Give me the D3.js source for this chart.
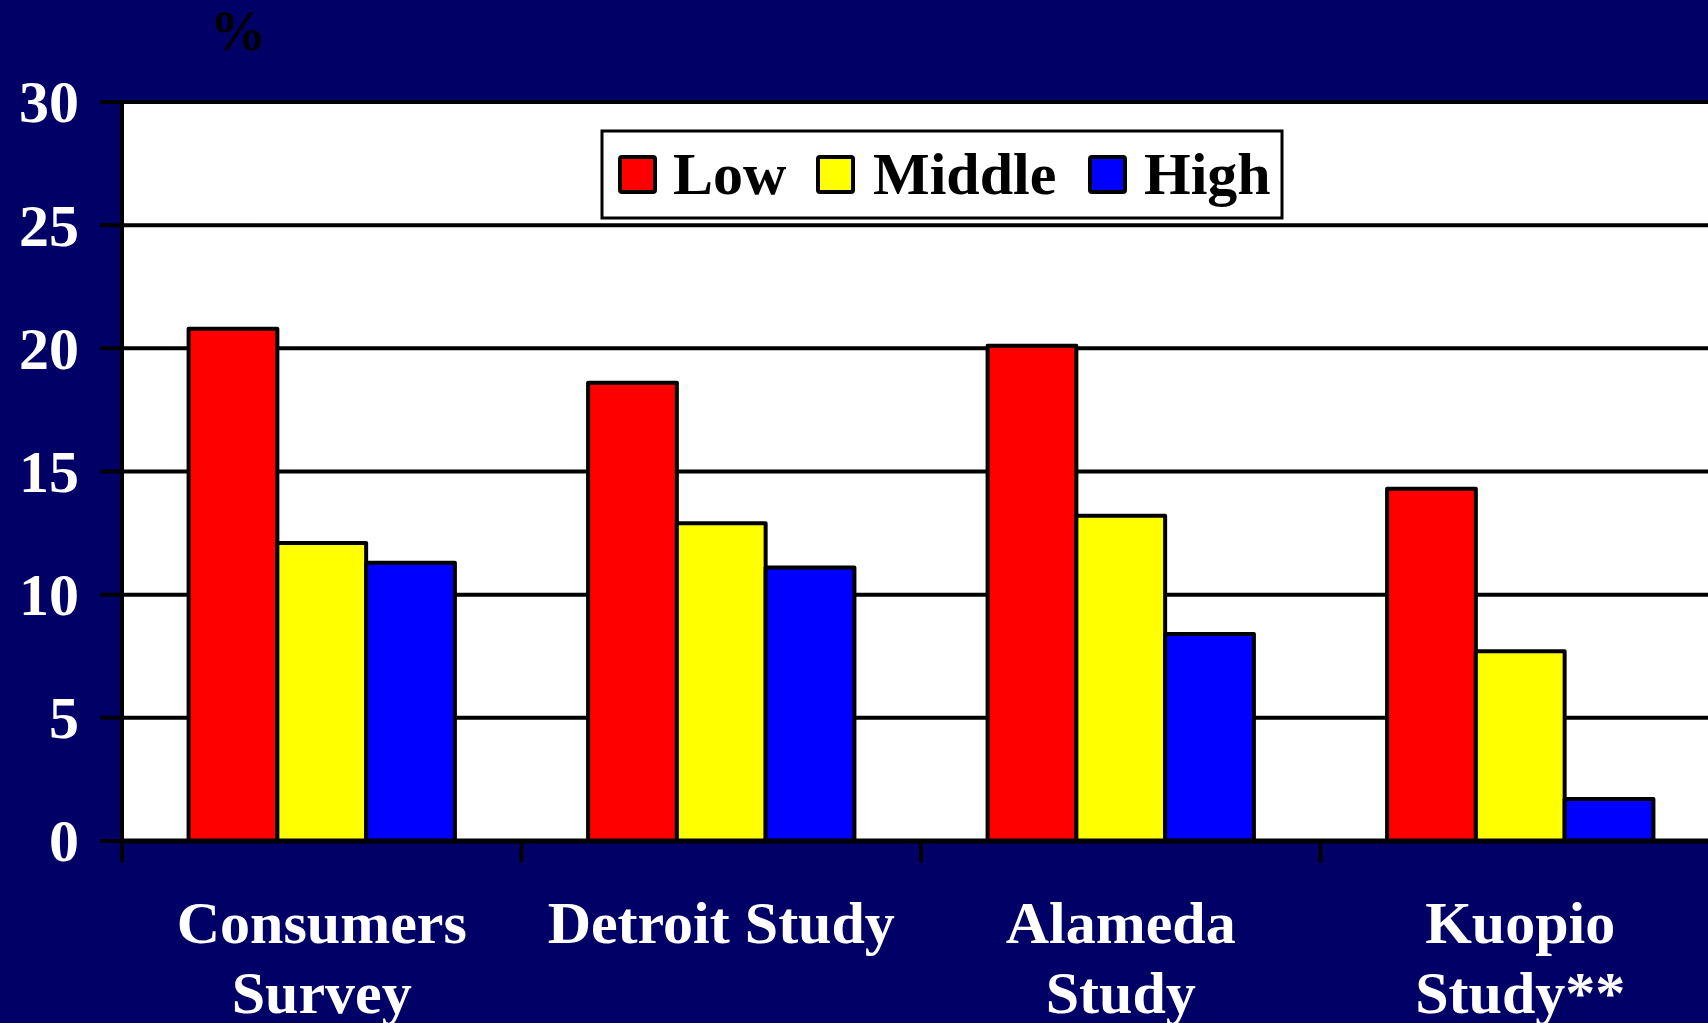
<!DOCTYPE html>
<html><head><meta charset="utf-8">
<script src="https://cdn.jsdelivr.net/npm/d3@7"></script>
<style>html,body{margin:0;padding:0;background:#000066;overflow:hidden}</style>
</head><body>
<svg id="c" width="1708" height="1023"></svg>
<script>
const categories = [["Consumers","Survey"],["Detroit Study"],["Alameda","Study"],["Kuopio","Study**"]];
const seriesNames = ["Low","Middle","High"];
const seriesColors = ["#ff0000","#ffff00","#0000ff"];
const lowValues = [20.8, 18.6, 20.1, 14.3];
const middleValues = [12.1, 12.9, 13.2, 7.7];
const highValues = [11.3, 11.1, 8.4, 1.7];
const yTicks = [0,5,10,15,20,25,30];
const yLabel = "%";

(function(){
const seriesValues = [lowValues, middleValues, highValues];
const catKeys = categories.map(c => c.join(" "));

const W = 1708, H = 1023;
const pLeft = 122, pRight = 1720, pTop = 102, pBottom = 841;
const svg = d3.select("#c");
const font = "'Liberation Serif','Times New Roman',serif";

svg.append("rect").attr("width",W).attr("height",H).attr("fill","#000066");

const x0 = d3.scaleBand().domain(catKeys).range([pLeft,pRight]).padding(0);
const bw = x0.bandwidth();
const x1 = d3.scaleBand().domain(seriesNames).range([bw/6, bw*5/6]).padding(0);
const y = d3.scaleLinear().domain([0,30]).range([pBottom, pTop]);

// plot area
svg.append("rect").attr("x",pLeft).attr("y",pTop).attr("width",W-pLeft).attr("height",pBottom-pTop).attr("fill","#fff");

// gridlines
svg.append("g").selectAll("line").data(yTicks).join("line")
  .attr("x1",pLeft-20).attr("x2",W).attr("y1",d=>y(d)).attr("y2",d=>y(d))
  .attr("stroke","#000").attr("stroke-width",4).attr("stroke-linecap","round");

// bars
const groups = svg.append("g").selectAll("g").data(catKeys).join("g")
  .attr("transform", d => `translate(${x0(d)},0)`);
groups.selectAll("rect").data((d,i) => seriesNames.map((s,j) => ({s, v: seriesValues[j][i], c: seriesColors[j]})))
  .join("rect")
  .attr("x", d => x1(d.s)).attr("width", x1.bandwidth())
  .attr("y", d => y(d.v)).attr("height", d => y(0) - y(d.v))
  .attr("fill", d => d.c).attr("stroke","#000").attr("stroke-width",4).attr("stroke-linejoin","round");

// y axis line
svg.append("line").attr("x1",pLeft).attr("x2",pLeft).attr("y1",pTop).attr("y2",pBottom)
  .attr("stroke","#000").attr("stroke-width",4);
// x axis line
svg.append("line").attr("x1",pLeft).attr("x2",W).attr("y1",pBottom).attr("y2",pBottom)
  .attr("stroke","#000").attr("stroke-width",5);
// category ticks
const tickXs = catKeys.map(k => x0(k)).concat([x0(catKeys[catKeys.length-1]) + bw]);
svg.append("g").selectAll("line").data(tickXs).join("line")
  .attr("x1",d=>d).attr("x2",d=>d).attr("y1",pBottom).attr("y2",pBottom+20)
  .attr("stroke","#000").attr("stroke-width",4).attr("stroke-linecap","round");

// y tick labels
svg.append("g").selectAll("text").data(yTicks).join("text")
  .attr("x",79).attr("y",d=>y(d)).attr("dy","0.34em")
  .attr("text-anchor","end").attr("fill","#fff")
  .attr("font-family",font).attr("font-weight","bold").attr("font-size",60)
  .text(d=>d);

// % label
svg.append("text").attr("x",238).attr("y",50).attr("text-anchor","middle")
  .attr("fill","#000").attr("font-family",font).attr("font-weight","bold").attr("font-size",56)
  .text(yLabel);

// category labels
const cl = svg.append("g").selectAll("text").data(categories).join("text")
  .attr("x",(d,i)=>x0(catKeys[i]) + bw/2).attr("y",943)
  .attr("text-anchor","middle").attr("fill","#fff")
  .attr("font-family",font).attr("font-weight","bold").attr("font-size",60);
cl.selectAll("tspan").data(d=>d).join("tspan")
  .attr("x", function(){ return d3.select(this.parentNode).attr("x"); })
  .attr("dy",(d,i)=> i===0 ? 0 : 70)
  .text(d=>d);

// legend
const lg = svg.append("g");
lg.append("rect").attr("x",602).attr("y",131).attr("width",680).attr("height",87)
  .attr("fill","#fff").attr("stroke","#000").attr("stroke-width",3);
const swX = [620, 818, 1090];
const txX = [673, 873, 1144];
seriesNames.forEach((s,i) => {
  lg.append("rect").attr("x",swX[i]).attr("y",157).attr("width",35).attr("height",35)
    .attr("fill",seriesColors[i]).attr("stroke","#000").attr("stroke-width",4).attr("rx",2);
  lg.append("text").attr("x",txX[i]).attr("y",194)
    .attr("fill","#000").attr("font-family",font).attr("font-weight","bold").attr("font-size",60)
    .text(s);
});
})();
</script>
</body></html>
